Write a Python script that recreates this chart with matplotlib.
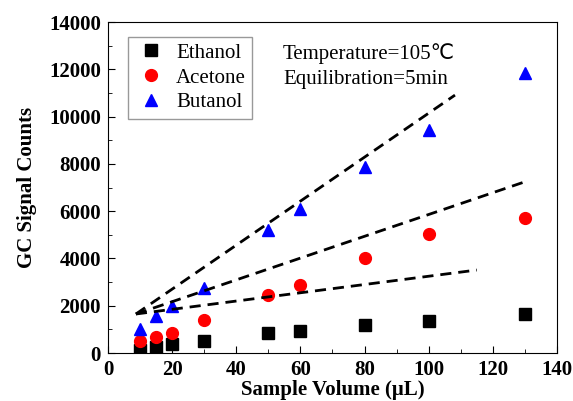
import matplotlib
matplotlib.use('Agg')
import matplotlib.pyplot as plt
from matplotlib.ticker import MultipleLocator

plt.rcParams['font.family'] = ['Liberation Serif', 'DejaVu Sans']

volume = [10, 15, 20, 30, 50, 60, 80, 100, 130]
ethanol = [130, 260, 380, 510, 850, 930, 1180, 1350, 1650]
acetone = [500, 680, 850, 1400, 2450, 2880, 4000, 5030, 5700]
butanol = [1020, 1570, 2000, 2750, 5200, 6090, 7870, 9430, 11850]

# dashed guide lines: start and end points
fit_x = [[8.7, 108.2], [8.7, 130.6], [8.7, 115.0]]
fit_y = [[1650, 10910], [1650, 7270], [1650, 3510]]

fig = plt.figure(figsize=(5.73, 4.01), dpi=100)
ax = fig.add_axes([0.1885, 0.1197, 0.7835, 0.8253])

ax.plot(volume, ethanol, 's', color='black', ms=8, label='Ethanol')
ax.plot(volume, acetone, 'o', color='red', ms=8.5, label='Acetone')
ax.plot(volume, butanol, '^', color='blue', ms=9, label='Butanol')

for fx, fy in zip(fit_x, fit_y):
    ax.plot(fx, fy, '--', color='black', lw=2, dashes=(4, 2.5))

ax.set_xlim(0, 140)
ax.set_ylim(0, 14000)
ax.xaxis.set_major_locator(MultipleLocator(20))
ax.xaxis.set_minor_locator(MultipleLocator(10))
ax.yaxis.set_major_locator(MultipleLocator(2000))
ax.yaxis.set_minor_locator(MultipleLocator(1000))
ax.tick_params(which='both', direction='in', top=False, right=False)
ax.tick_params(which='major', length=5, labelsize=15, pad=5)
ax.tick_params(which='minor', length=3)
for lab in ax.get_xticklabels() + ax.get_yticklabels():
    lab.set_fontweight('bold')

ax.set_xlabel('Sample Volume (μL)', fontsize=15, fontweight='bold', labelpad=0)
ax.set_ylabel('GC Signal Counts', fontsize=15, fontweight='bold', labelpad=9)

leg = ax.legend(loc='upper left', bbox_to_anchor=(0.045, 0.955), fontsize=15,
                frameon=True, fancybox=False, edgecolor='gray',
                handletextpad=0.4, handlelength=1.6, borderpad=0.3,
                labelspacing=0.25, borderaxespad=0)
leg.get_frame().set_linewidth(1)

ax.text(54.6, 12130, 'Temperature=105℃\nEquilibration=5min', fontsize=15,
        va='center', ha='left', linespacing=1.4)

fig.savefig('out.png', dpi=100)
